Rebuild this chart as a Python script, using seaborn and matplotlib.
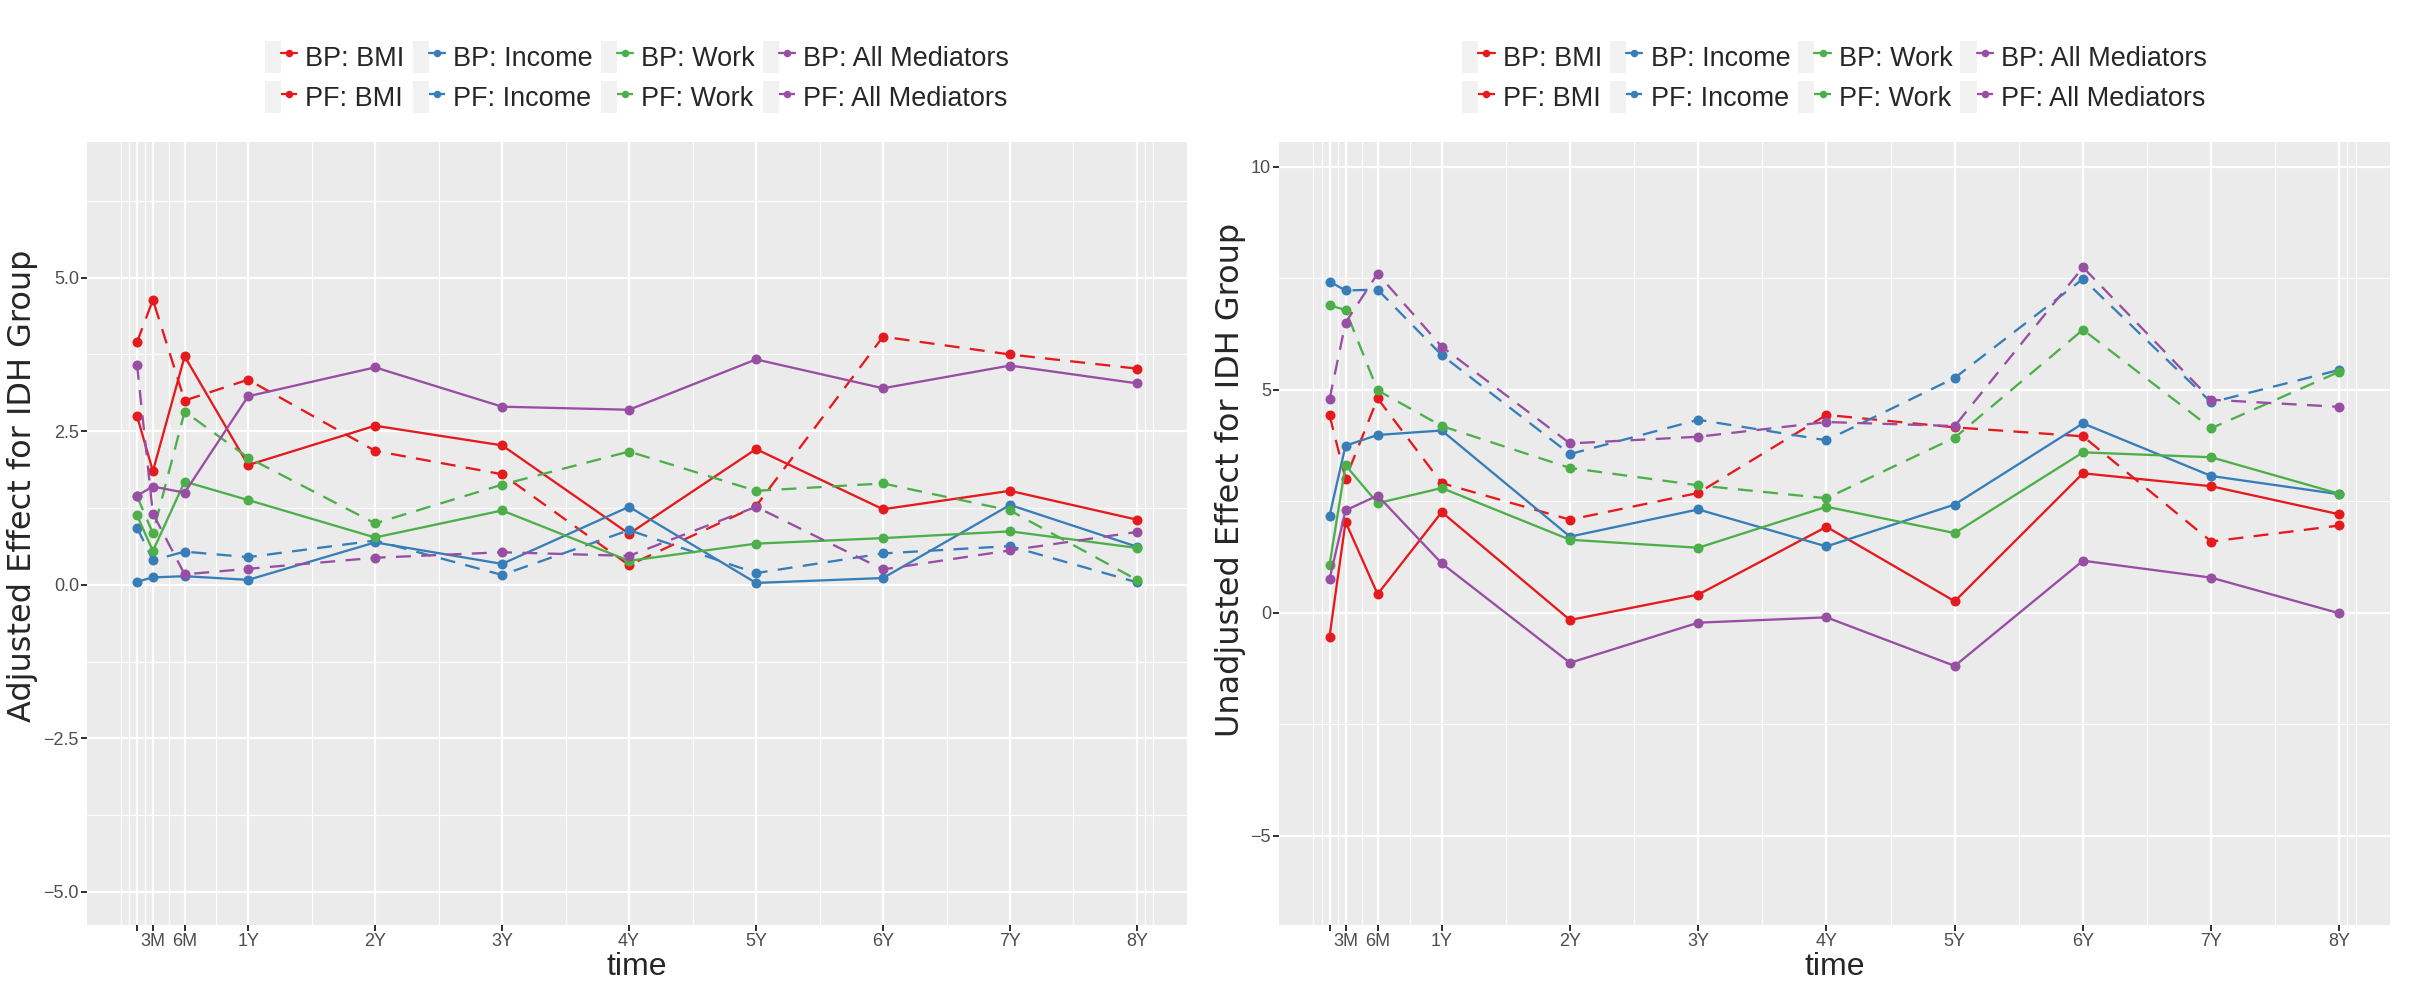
''' mediation effects over time, adjusted vs unadjusted '''
import matplotlib
matplotlib.use("Agg")
import matplotlib.pyplot as plt
from matplotlib.lines import Line2D
from matplotlib.patches import Rectangle
from matplotlib.legend_handler import HandlerTuple
from matplotlib.ticker import FixedLocator
import seaborn as sns
import pandas as pd

# time points in years
times = [0.125, 0.25, 0.5, 1, 2, 3, 4, 5, 6, 7, 8]
tick_labels = ["", "3M", "6M", "1Y", "2Y", "3Y", "4Y", "5Y", "6Y", "7Y", "8Y"]
x_minor = [0, 0.0625, 0.1875, 0.375, 0.75, 1.5, 2.5, 3.5, 4.5, 5.5, 6.5, 7.5, 8.0625, 8.125]

mediators = ["BMI", "Income", "Work", "All Mediators"]
methods = ["BP", "PF"]

# adjusted effects
adj_bp_bmi = [2.75, 1.85, 3.72, 1.95, 2.59, 2.27, 0.83, 2.21, 1.23, 1.53, 1.06]
adj_pf_bmi = [3.95, 4.64, 3.00, 3.34, 2.18, 1.80, 0.32, 1.28, 4.04, 3.75, 3.52]
adj_bp_income = [0.05, 0.12, 0.14, 0.08, 0.69, 0.34, 1.27, 0.03, 0.11, 1.30, 0.62]
adj_pf_income = [0.93, 0.40, 0.54, 0.45, 0.72, 0.16, 0.89, 0.19, 0.51, 0.63, 0.04]
adj_bp_work = [1.13, 0.55, 1.68, 1.38, 0.77, 1.21, 0.39, 0.67, 0.76, 0.87, 0.60]
adj_pf_work = [1.44, 0.84, 2.82, 2.07, 1.00, 1.63, 2.17, 1.53, 1.65, 1.21, 0.08]
adj_bp_all = [1.45, 1.60, 1.50, 3.07, 3.54, 2.90, 2.85, 3.67, 3.20, 3.57, 3.28]
adj_pf_all = [3.58, 1.16, 0.17, 0.26, 0.44, 0.53, 0.47, 1.27, 0.25, 0.56, 0.86]

# unadjusted effects
unadj_bp_bmi = [-0.53, 2.04, 0.42, 2.26, -0.16, 0.41, 1.93, 0.26, 3.13, 2.84, 2.21]
unadj_pf_bmi = [4.43, 3.01, 4.81, 2.91, 2.09, 2.69, 4.44, 4.16, 3.96, 1.60, 1.96]
unadj_bp_income = [2.18, 3.75, 3.99, 4.09, 1.71, 2.32, 1.49, 2.43, 4.25, 3.07, 2.66]
unadj_pf_income = [7.43, 7.23, 7.25, 5.78, 3.56, 4.33, 3.87, 5.27, 7.49, 4.72, 5.45]
unadj_bp_work = [1.08, 3.31, 2.46, 2.80, 1.64, 1.46, 2.38, 1.79, 3.60, 3.49, 2.67]
unadj_pf_work = [6.90, 6.79, 4.99, 4.19, 3.25, 2.86, 2.57, 3.93, 6.35, 4.14, 5.41]
unadj_bp_all = [0.76, 2.30, 2.63, 1.11, -1.12, -0.22, -0.10, -1.19, 1.17, 0.79, -0.01]
unadj_pf_all = [4.79, 6.51, 7.61, 5.97, 3.80, 3.95, 4.28, 4.19, 7.75, 4.78, 4.62]

adjusted = {
    "BP": [adj_bp_bmi, adj_bp_income, adj_bp_work, adj_bp_all],
    "PF": [adj_pf_bmi, adj_pf_income, adj_pf_work, adj_pf_all],
}
unadjusted = {
    "BP": [unadj_bp_bmi, unadj_bp_income, unadj_bp_work, unadj_bp_all],
    "PF": [unadj_pf_bmi, unadj_pf_income, unadj_pf_work, unadj_pf_all],
}

colors = ["#E41A1C", "#377EB8", "#4DAF4A", "#984EA3"]
order = [f"{m}: {med}" for med in mediators for m in methods]
palette = {f"{m}: {med}": c for med, c in zip(mediators, colors) for m in methods}
dash_map = {lab: ("" if lab.startswith("BP") else (6.5, 4.5)) for lab in order}
marker_map = {lab: "o" for lab in order}

narrow = ["Liberation Sans Narrow", "Liberation Sans", "DejaVu Sans"]


def make_frame(values):
    ''' long table of series values '''
    rows = []
    for m in methods:
        for med, series in zip(mediators, values[m]):
            for t, v in zip(times, series):
                rows.append({"time": t, "effect": v, "series": f"{m}: {med}"})
    return pd.DataFrame(rows)


sns.set_theme(style="darkgrid")
plt.rcParams["font.family"] = ["Liberation Sans", "DejaVu Sans"]

fig = plt.figure(figsize=(2418 / 72, 998 / 72), dpi=72)
bottom = (998 - 925) / 998
height = (925 - 142) / 998
ax_left = fig.add_axes([87 / 2418, bottom, 1100 / 2418, height])
ax_right = fig.add_axes([1279 / 2418, bottom, 1111 / 2418, height])

panels = [
    (ax_left, adjusted, "Adjusted Effect for IDH Group", (-5.54, 7.21),
     [-5.0, -2.5, 0.0, 2.5, 5.0], ["\u22125.0", "\u22122.5", "0.0", "2.5", "5.0"],
     [-3.75, -1.25, 1.25, 3.75, 6.25], 0.561),
    (ax_right, unadjusted, "Unadjusted Effect for IDH Group", (-7.0, 10.56),
     [-5, 0, 5, 10], ["\u22125", "0", "5", "10"], [-2.5, 2.5, 7.5], 0.568),
]

for ax, values, ylabel, ylim, yticks, ylabels, yminor, ylab_y in panels:
    df = make_frame(values)
    sns.lineplot(data=df, x="time", y="effect", hue="series", style="series",
                 hue_order=order, style_order=order, palette=palette,
                 dashes=dash_map, markers=marker_map, markersize=10,
                 markeredgewidth=0, linewidth=2.3, errorbar=None,
                 legend=False, ax=ax)
    ax.set_facecolor("#EBEBEB")
    ax.set_xlim(-0.269, 8.394)
    ax.set_ylim(*ylim)
    ax.set_xticks(times)
    ax.set_xticklabels(tick_labels, family=narrow)
    ax.set_yticks(yticks)
    ax.set_yticklabels(ylabels, family=narrow)
    ax.xaxis.set_minor_locator(FixedLocator(x_minor))
    ax.yaxis.set_minor_locator(FixedLocator(yminor))
    ax.grid(which="major", color="white", linewidth=2.2)
    ax.grid(which="minor", color="white", linewidth=1.1)
    ax.tick_params(which="major", length=6, width=2, color="#333333",
                   labelsize=18, labelcolor="#4D4D4D", pad=2,
                   bottom=True, left=True)
    ax.tick_params(which="minor", length=0)
    for s in ax.spines.values():
        s.set_visible(False)
    ax.set_xlabel("time", fontsize=32, labelpad=2)
    ax.set_ylabel(ylabel, fontsize=32, labelpad=5, family=["DejaVu Sans"])
    ax.yaxis.label.set_y(ylab_y)

    handles = []
    for lab in order:
        key_bg = Rectangle((0, 0), 1, 1, facecolor="#F2F2F2", edgecolor="none")
        ls = "-" if lab.startswith("BP") else (0, (3, 2.2))
        ln = Line2D([], [], color=palette[lab], linestyle=ls, linewidth=2.3,
                    marker="o", markersize=7.5, markeredgewidth=0)
        handles.append((key_bg, ln))
    pos = ax.get_position()
    fig.legend(handles, order, ncol=4, loc="center",
               bbox_to_anchor=((pos.x0 + pos.x1) / 2, 1 - 77 / 998),
               frameon=False, fontsize=27, handlelength=1.2, handleheight=1.45,
               handletextpad=0.3, columnspacing=0.3, labelspacing=0.32,
               borderpad=0, handler_map={tuple: HandlerTuple(ndivide=None, pad=0)})

fig.savefig("out.png", dpi=72)
